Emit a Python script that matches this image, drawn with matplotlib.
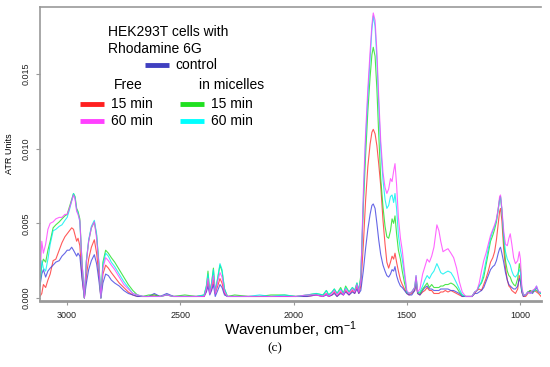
import matplotlib
matplotlib.use("Agg")
import matplotlib.pyplot as plt
import numpy as np
from matplotlib.lines import Line2D

# wavenumber grid (cm-1), descending
wavenumber = [
    3120, 3112, 3105, 3095, 3085, 3075, 3062, 3050, 3035, 3023, 3010, 3000, 2990, 2980,
    2972, 2965, 2958, 2952, 2944, 2935, 2924, 2915, 2905, 2893, 2880, 2870, 2860, 2851,
    2842, 2830, 2818, 2805, 2790, 2770, 2750, 2730, 2710, 2690, 2665, 2640, 2615, 2590,
    2560, 2530, 2480, 2430, 2395, 2385, 2378, 2370, 2362, 2354, 2346, 2335, 2325, 2316,
    2305, 2292, 2260, 2200, 2150, 2100, 2040, 1990, 1940, 1900, 1870, 1855, 1845, 1830,
    1820, 1808, 1792, 1780, 1770, 1755, 1740, 1730, 1720, 1712, 1703, 1692, 1682, 1672,
    1662, 1654, 1648, 1640, 1632, 1624, 1615, 1605, 1596, 1588, 1580, 1572, 1565, 1558,
    1552, 1545, 1537, 1528, 1520, 1510, 1500, 1490, 1478, 1465, 1459, 1452, 1442, 1430,
    1420, 1410, 1400, 1390, 1380, 1367, 1358, 1350, 1340, 1330, 1318, 1305, 1293, 1280,
    1268, 1255, 1240, 1225, 1212, 1200, 1190, 1180, 1170, 1160, 1150, 1140, 1130, 1120,
    1112, 1104, 1096, 1090, 1086, 1080, 1072, 1064, 1056, 1049, 1043, 1036, 1028, 1020,
    1010, 1003, 998, 992, 985, 975, 965, 955, 945, 935, 927, 918, 907,
]

# absorbance in units of 1e-3 ATR units
free_15 = [
    0.1, 0.3, 0.9, 0.7, 1.2, 1.6, 2.5, 2.6, 3.2, 3.7, 4.1, 4.3, 4.5, 4.7,
    4.6, 4.2, 3.8, 4.0, 3.5, 1.5, 0.0, 1.5, 2.6, 3.4, 3.9, 3.0, 1.6, 0.0,
    1.6, 2.2, 2.0, 1.7, 1.4, 1.0, 0.7, 0.4, 0.2, 0.1, 0.1, 0.1, 0.2, 0.1,
    0.2, 0.1, 0.1, 0.1, 0.1, 0.5, 1.1, 0.3, 0.6, 1.2, 0.3, 0.8, 1.3, 1.0,
    0.3, 0.1, 0.1, 0.1, 0.1, 0.1, 0.1, 0.1, 0.1, 0.2, 0.1, 0.3, 0.1, 0.2,
    0.4, 0.1, 0.4, 0.2, 0.5, 0.2, 0.5, 0.3, 0.8, 0.3, 0.8, 3.5, 6.5, 8.8,
    10.3, 11.1, 11.3, 11.0, 10.2, 9.0, 7.5, 5.2, 3.6, 2.4, 2.0, 2.4, 2.8, 2.6,
    3.0, 2.4, 1.8, 1.2, 0.9, 0.6, 0.3, 0.2, 0.3, 0.5, 0.9, 0.3, 0.2, 0.4,
    0.5, 0.7, 0.5, 0.5, 0.3, 0.3, 0.3, 0.4, 0.4, 0.5, 0.4, 0.5, 0.4, 0.3,
    0.2, 0.1, 0.1, 0.1, 0.1, 0.3, 0.5, 0.6, 0.5, 0.9, 1.3, 1.8, 2.4, 2.7,
    3.1, 3.9, 5.0, 5.8, 6.0, 5.2, 3.3, 2.0, 1.2, 0.8, 0.7, 0.5, 0.4, 0.3,
    0.6, 1.5, 1.2, 0.4, 0.1, 0.1, 0.3, 0.5, 0.4, 0.5, 0.4, 0.3, 0.1,
]
free_60 = [
    1.5, 3.8, 3.0, 3.6, 4.6, 5.0, 5.1, 5.3, 5.4, 5.4, 5.6, 5.6, 6.0, 6.5,
    6.9, 6.6, 5.8, 5.6, 5.2, 2.5, 0.0, 2.4, 3.8, 4.7, 5.1, 4.0, 2.2, 0.0,
    2.0, 2.7, 2.5, 2.2, 1.9, 1.4, 0.9, 0.6, 0.3, 0.2, 0.1, 0.1, 0.1, 0.1,
    0.2, 0.1, 0.1, 0.1, 0.1, 0.6, 1.3, 0.3, 0.8, 1.5, 0.3, 1.1, 1.7, 1.4,
    0.4, 0.1, 0.1, 0.1, 0.1, 0.1, 0.1, 0.1, 0.2, 0.2, 0.1, 0.3, 0.1, 0.3,
    0.5, 0.2, 0.5, 0.2, 0.6, 0.3, 0.6, 0.4, 0.9, 0.4, 1.2, 7.0, 11.0, 14.0,
    16.5, 18.3, 19.1, 18.6, 16.5, 13.5, 10.5, 8.4, 7.4, 7.0, 7.3, 8.0, 7.8, 8.5,
    9.0, 7.6, 5.4, 4.0, 3.2, 1.8, 0.5, 0.3, 0.4, 0.7, 1.5, 0.4, 0.6, 1.6,
    2.1, 2.6, 2.4, 2.8, 3.4, 4.9, 4.5, 3.8, 3.1, 3.2, 3.3, 3.0, 2.7, 2.0,
    1.1, 0.4, 0.1, 0.1, 0.1, 0.4, 0.5, 1.0, 1.8, 2.5, 3.0, 3.6, 4.2, 4.6,
    4.9, 5.3, 6.0, 6.8, 6.9, 6.0, 4.5, 3.6, 3.5, 4.0, 4.3, 3.6, 2.7, 2.3,
    2.5, 3.1, 2.6, 0.8, 0.2, 0.2, 0.4, 0.3, 0.5, 0.6, 0.8, 0.4, 0.4,
]
micelles_15 = [
    1.0, 2.2, 2.6, 2.4, 3.2, 3.8, 4.7, 4.9, 5.1, 5.3, 5.5, 5.6, 6.1, 6.6,
    7.0, 6.8, 6.0, 5.8, 5.3, 2.6, 0.0, 2.5, 3.8, 4.7, 5.1, 4.2, 2.3, 0.0,
    2.4, 3.2, 3.0, 2.7, 2.4, 1.9, 1.4, 0.9, 0.5, 0.2, 0.1, 0.2, 0.2, 0.1,
    0.2, 0.1, 0.2, 0.1, 0.2, 0.8, 1.8, 0.4, 1.0, 2.0, 0.4, 1.3, 2.2, 1.8,
    0.6, 0.1, 0.2, 0.1, 0.1, 0.2, 0.2, 0.1, 0.2, 0.3, 0.2, 0.5, 0.2, 0.4,
    0.6, 0.3, 0.7, 0.3, 0.8, 0.4, 0.7, 0.5, 1.0, 0.5, 1.5, 6.1, 9.5, 12.5,
    14.8, 16.3, 16.8, 16.2, 14.0, 11.0, 8.0, 6.1, 4.8, 4.1, 4.0, 4.5, 5.3, 5.0,
    5.5, 4.3, 3.2, 2.6, 1.8, 1.0, 0.4, 0.3, 0.4, 0.7, 1.4, 0.4, 0.3, 0.6,
    0.8, 1.0, 0.7, 0.9, 0.7, 0.7, 0.7, 0.8, 0.8, 0.9, 0.9, 1.0, 0.9, 0.7,
    0.4, 0.2, 0.1, 0.1, 0.1, 0.4, 0.5, 0.8, 1.0, 1.4, 2.2, 3.0, 3.8, 4.2,
    4.6, 5.1, 6.0, 6.6, 6.8, 5.9, 3.9, 2.5, 1.8, 1.5, 1.4, 1.1, 0.9, 0.8,
    1.3, 2.3, 1.9, 0.6, 0.2, 0.2, 0.4, 0.5, 0.4, 0.6, 0.5, 0.4, 0.3,
]
micelles_60 = [
    0.8, 2.5, 2.0, 1.8, 2.6, 3.6, 4.5, 4.6, 4.8, 4.9, 5.2, 5.4, 5.9, 6.5,
    7.0, 6.7, 5.9, 5.7, 5.1, 2.5, 0.0, 2.5, 3.9, 4.8, 5.2, 4.3, 2.4, 0.0,
    2.2, 3.0, 2.8, 2.4, 2.1, 1.6, 1.1, 0.7, 0.3, 0.2, 0.1, 0.1, 0.1, 0.1,
    0.2, 0.1, 0.1, 0.1, 0.2, 0.8, 1.6, 0.4, 1.0, 1.9, 0.4, 1.4, 2.3, 1.9,
    0.6, 0.1, 0.1, 0.1, 0.2, 0.1, 0.2, 0.1, 0.2, 0.3, 0.2, 0.5, 0.2, 0.4,
    0.6, 0.3, 0.6, 0.3, 0.7, 0.4, 0.7, 0.5, 1.0, 0.5, 1.3, 6.5, 10.5, 13.5,
    16.0, 18.0, 18.9, 18.2, 16.0, 13.0, 10.0, 7.9, 6.6, 6.0, 6.2, 6.8, 6.9, 6.4,
    7.0, 6.0, 4.2, 3.2, 2.6, 1.5, 0.4, 0.3, 0.4, 0.7, 1.5, 0.4, 0.4, 0.8,
    1.2, 1.5, 1.3, 1.6, 1.8, 2.3, 2.0, 1.7, 1.6, 1.7, 1.8, 1.7, 1.4, 1.0,
    0.6, 0.2, 0.1, 0.1, 0.1, 0.4, 0.5, 0.8, 1.1, 1.7, 2.5, 3.3, 4.0, 4.5,
    4.8, 5.2, 5.9, 6.6, 6.8, 5.9, 4.2, 3.1, 2.6, 2.4, 2.2, 1.8, 1.5, 1.4,
    1.6, 1.9, 1.7, 0.6, 0.2, 0.2, 0.4, 0.3, 0.5, 0.5, 0.8, 0.4, 0.3,
]
control = [
    0.8, 1.6, 1.9, 1.4, 1.8, 2.0, 2.2, 2.4, 2.5, 2.8, 3.0, 3.2, 3.2, 3.4,
    3.2, 3.0, 2.8, 3.0, 2.8, 1.4, 0.0, 1.0, 1.9, 2.5, 2.9, 2.3, 1.2, 0.0,
    1.0, 1.6, 1.5, 1.2, 1.0, 0.8, 0.5, 0.3, 0.2, 0.1, 0.1, 0.1, 0.3, 0.1,
    0.3, 0.1, 0.1, 0.1, 0.1, 0.4, 0.8, 0.2, 0.5, 0.9, 0.1, 0.5, 0.9, 0.7,
    0.2, 0.1, 0.1, 0.1, 0.1, 0.1, 0.1, 0.1, 0.1, 0.2, 0.1, 0.2, 0.1, 0.2,
    0.3, 0.1, 0.3, 0.2, 0.4, 0.2, 0.4, 0.3, 0.6, 0.3, 0.5, 1.8, 3.3, 4.6,
    5.6, 6.2, 6.3, 6.0, 5.0, 3.9, 2.9, 2.2, 1.8, 1.5, 1.4, 1.6, 1.9, 1.8,
    2.1, 1.5, 1.1, 0.8, 0.7, 0.5, 0.3, 0.2, 0.2, 0.5, 1.2, 0.3, 0.2, 0.5,
    0.7, 0.8, 0.6, 0.6, 0.5, 0.5, 0.5, 0.6, 0.6, 0.6, 0.6, 0.5, 0.5, 0.4,
    0.3, 0.1, 0.1, 0.1, 0.1, 0.3, 0.3, 0.4, 0.5, 0.7, 1.1, 1.5, 1.9, 2.1,
    2.2, 2.5, 3.0, 3.3, 3.4, 3.0, 2.4, 1.7, 1.2, 0.9, 0.8, 0.7, 0.6, 0.6,
    0.8, 1.3, 1.1, 0.4, 0.1, 0.2, 0.4, 0.4, 0.3, 0.5, 0.7, 0.4, 0.3,
]

series = [
    ("free_15", free_15, "#ff3030"),
    ("control", control, "#4040e0"),
    ("micelles_15", micelles_15, "#20e020"),
    ("micelles_60", micelles_60, "#00f0f0"),
    ("free_60", free_60, "#ff40ff"),
]

plt.rcParams["font.family"] = ["Liberation Sans", "DejaVu Sans"]
plt.rcParams["mathtext.fontset"] = "custom"
plt.rcParams["mathtext.rm"] = "Liberation Sans"
plt.rcParams["mathtext.it"] = "Liberation Sans:italic"

fig = plt.figure(figsize=(5.5, 3.67), dpi=100)
ax = fig.add_axes([0.0727, 0.180, 0.911, 0.801])

wn = np.array(wavenumber, dtype=float)
for name, values, color in series:
    ax.plot(wn, np.array(values) * 1e-3, color=color, linewidth=0.8, alpha=0.8)

ax.set_xlim(3120, 907)
ax.set_ylim(-0.0002, 0.0195)
ax.set_xticks([3000, 2500, 2000, 1500, 1000])
ax.set_yticks([0.0, 0.005, 0.010, 0.015])
ax.set_yticklabels(["0.000", "0.005", "0.010", "0.015"], rotation=90, va="center")

gray = "#999999"
for side in ["left", "top", "bottom"]:
    ax.spines[side].set_color(gray)
ax.spines["bottom"].set_linewidth(2.0)
ax.spines["left"].set_linewidth(1.2)
ax.spines["top"].set_linewidth(1.2)
ax.spines["right"].set_visible(False)
ax.tick_params(axis="both", colors=gray, labelcolor="#222222", labelsize=6.5, length=3, width=0.8)
ax.tick_params(axis="x", pad=4)

ax.set_xlabel("Wavenumber, cm$^{-1}$", fontsize=11, labelpad=0)
ax.set_ylabel("ATR Units", fontsize=6.5, labelpad=6)

# legend built as text and line samples in axes coordinates
tr = ax.transAxes
ax.text(0.135, 0.915, "HEK293T cells with", transform=tr, fontsize=10, va="center")
ax.text(0.135, 0.857, "Rhodamine 6G", transform=tr, fontsize=10, va="center")
legend_rows = [
    (0.209, 0.802, "#4040c0", "control"),
    (0.080, 0.670, "#ff2020", "15 min"),
    (0.080, 0.612, "#ff40ff", "60 min"),
    (0.279, 0.670, "#20e020", "15 min"),
    (0.279, 0.612, "#00ffff", "60 min"),
]
for x0, y0, color, label in legend_rows:
    ax.add_line(Line2D([x0, x0 + 0.048], [y0, y0], transform=tr, color=color,
                       linewidth=3.5, solid_capstyle="butt"))
    ax.text(x0 + 0.062, y0, label, transform=tr, fontsize=10, va="center")
ax.text(0.148, 0.735, "Free", transform=tr, fontsize=10, va="center")
ax.text(0.318, 0.735, "in micelles", transform=tr, fontsize=10, va="center")

fig.text(0.5, 0.052, "(c)", ha="center", va="center", fontsize=9.5,
         family=["Liberation Serif", "DejaVu Serif"])

fig.savefig("out.png", dpi=100)
